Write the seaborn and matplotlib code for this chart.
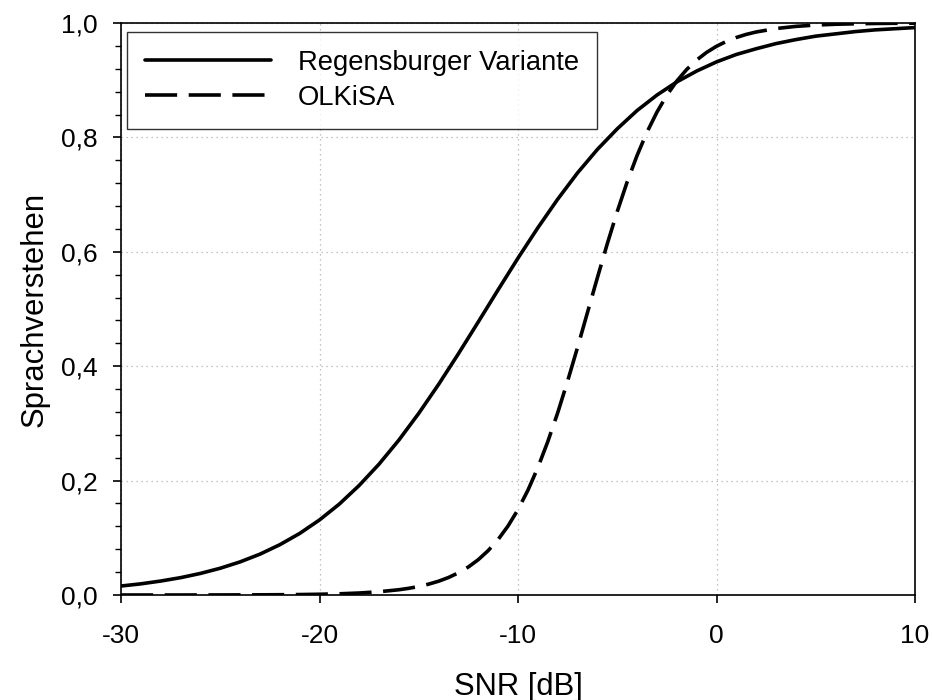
import numpy as np
import pandas as pd
import matplotlib
matplotlib.use("Agg")
import matplotlib.pyplot as plt
from matplotlib.ticker import MultipleLocator, FuncFormatter
import seaborn as sns

# ---- data ----
snr_db = [-30, -29, -28, -27, -26, -25, -24, -23, -22, -21,
          -20, -19, -18, -17, -16, -15, -14, -13, -12, -11,
          -10, -9, -8, -7, -6, -5, -4, -3, -2, -1,
          0, 1, 2, 3, 4, 5, 6, 7, 8, 9, 10]
regensburger = [0.0157, 0.0195, 0.0244, 0.0303, 0.0377, 0.0468, 0.0579, 0.0714, 0.0879, 0.1076,
                0.1312, 0.159, 0.1916, 0.2288, 0.2709, 0.3176, 0.3682, 0.4219, 0.4775, 0.5337,
                0.589, 0.642, 0.692, 0.738, 0.779, 0.815, 0.847, 0.874, 0.897, 0.916,
                0.932, 0.945, 0.955, 0.964, 0.971, 0.977, 0.981, 0.985, 0.988, 0.990, 0.992]
olkisa_snr_db = [-30, -29, -28, -27, -26, -25, -24, -23, -22, -21,
                 -20, -19, -18, -17, -16, -15.5, -15, -14.5, -14, -13.5, -13, -12.5, -12, -11.5,
                 -11, -10.5, -10, -9.5, -9, -8.5, -8, -7.5, -7, -6.5, -6, -5.5, -5, -4.5,
                 -4, -3.5, -3, -2.5, -2, -1.5, -1, -0.5, 0, 0.5, 1, 1.5,
                 2, 3, 4, 5, 6, 7, 8, 9, 10]
olkisa = [0.0000, 0.0000, 0.0000, 0.0000, 0.0001, 0.0001, 0.0002, 0.0003, 0.0005, 0.0008,
          0.0013, 0.0021, 0.0035, 0.0057, 0.0092, 0.0117, 0.0149, 0.0190, 0.0241, 0.0306,
          0.0388, 0.0490, 0.0618, 0.0777, 0.0971, 0.1208, 0.1493, 0.1832, 0.2227, 0.2681,
          0.3186, 0.3741, 0.4329, 0.4939, 0.5548, 0.6143, 0.6704, 0.7222, 0.7685, 0.8093,
          0.8442, 0.8739, 0.8985, 0.9188, 0.9352, 0.9486, 0.9593, 0.9679, 0.9747, 0.9801,
          0.9843, 0.9903, 0.9941, 0.9964, 0.9978, 0.9986, 0.9992, 0.9995, 0.9997]
series_names = ["Regensburger Variante", "OLKiSA"]
x_ticks = [-30, -20, -10, 0, 10]
x_label = "SNR [dB]"
y_label = "Sprachverstehen"

df = pd.DataFrame({
    "SNR": snr_db + olkisa_snr_db,
    "value": regensburger + olkisa,
    "Variante": [series_names[0]] * len(snr_db) + [series_names[1]] * len(olkisa_snr_db),
})

sns.set_theme(style="white")
plt.rcParams["font.family"] = ["Liberation Sans", "DejaVu Sans"]
plt.rcParams["axes.unicode_minus"] = False
plt.rcParams["text.color"] = "black"

fig = plt.figure(figsize=(9.32, 7.0), dpi=100)
ax = fig.add_axes([121 / 932, 105 / 700, 794 / 932, 572 / 700])

sns.lineplot(data=df, x="SNR", y="value", hue="Variante", style="Variante",
             palette=["black", "black"],
             dashes={series_names[0]: "", series_names[1]: (8.9, 3.2)},
             linewidth=2.6, ax=ax, legend=True)

ax.set_xlim(-30, 10)
ax.set_ylim(0, 1)
ax.set_xticks(x_ticks)
ax.yaxis.set_major_locator(MultipleLocator(0.2))
ax.yaxis.set_minor_locator(MultipleLocator(0.04))
ax.yaxis.set_major_formatter(FuncFormatter(lambda v, p: f"{v:.1f}".replace(".", ",")))
ax.xaxis.set_major_formatter(FuncFormatter(lambda v, p: f"{v:.0f}"))

ax.grid(True, which="major", color="#b0b0b0", linestyle=(0, (1, 3)), linewidth=0.9)
for s in ax.spines.values():
    s.set_color("black")
    s.set_linewidth(1.2)

ax.tick_params(axis="both", which="major", direction="out", length=6, width=1.2,
               colors="black", labelsize=19, left=True, bottom=True)
ax.tick_params(axis="y", which="major", pad=11)
ax.tick_params(axis="x", which="major", pad=15)
ax.tick_params(axis="y", which="minor", direction="out", length=4, width=1.0,
               color="black", left=True)

ax.set_xlabel(x_label, fontsize=22.3, color="black", labelpad=17)
ax.set_ylabel(y_label, fontsize=22.3, color="black", labelpad=8)

handles, labels = ax.get_legend_handles_labels()
leg = ax.legend(handles, labels, loc="upper left", bbox_to_anchor=(0.0076, 0.984),
                borderaxespad=0, fontsize=19.7, frameon=True, fancybox=False,
                edgecolor="black", handlelength=4.6, handletextpad=1.0,
                labelspacing=0.33, borderpad=0.65)
leg.get_frame().set_linewidth(1.0)
for t in leg.get_texts():
    t.set_color("black")
for h in leg.get_lines():
    h.set_linewidth(2.6)

fig.savefig("out.png", dpi=100)
